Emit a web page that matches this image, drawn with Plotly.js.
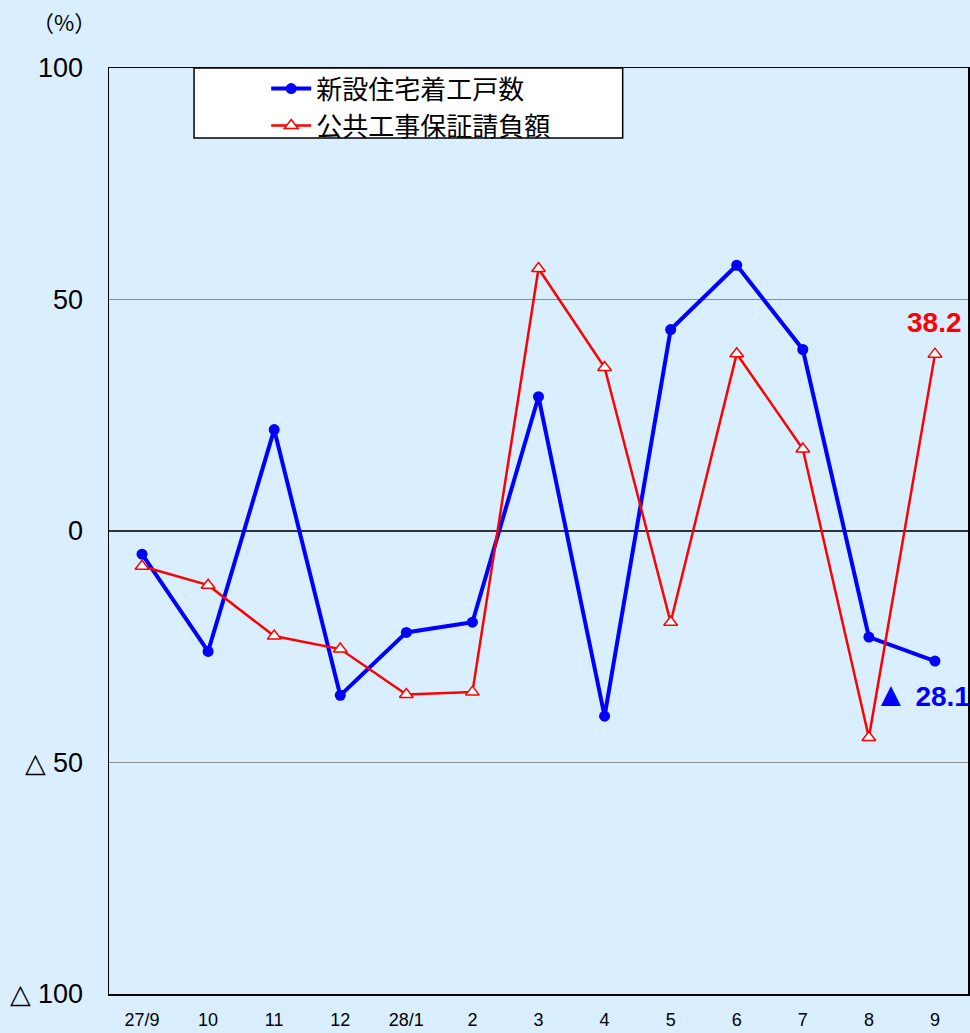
<!DOCTYPE html>
<html>
<head>
<meta charset="utf-8">
<script src="https://cdn.plot.ly/plotly-3.0.1.min.js"></script>
<style>
html,body{margin:0;padding:0;background:#D9EFFF;}
#chart{width:970px;height:1033px;}
</style>
</head>
<body>
<div id="chart"></div>
<script>
var categories = ['27/9','10','11','12','28/1','2','3','4','5','6','7','8','9'];
var housingStarts = [-5.0, -26.0, 21.9, -35.5, -21.9, -19.7, 29.0, -40.0, 43.5, 57.4, 39.2, -22.9, -28.1];
var publicWorks = [-7.6, -11.7, -22.7, -25.5, -35.3, -34.8, 56.7, 35.3, -19.7, 38.3, 17.7, -44.6, 38.2];
var seriesNames = ['新設住宅着工戸数', '公共工事保証請負額'];
var yTickVals = [100, 50, 0, -50, -100];
var yTickText = ['100', '50', '0', '△ 50', '△ 100'];

var sans = '"Liberation Sans", Arial, sans-serif';
var cjk = '"Noto Sans CJK JP", sans-serif';

var xIdx = categories.map(function(c, i){ return i; });

var traces = [
  {
    x: xIdx, y: housingStarts, name: seriesNames[0], type: 'scatter', mode: 'lines+markers',
    line: {color: '#0000FF', width: 4},
    marker: {symbol: 'circle', size: 11, color: '#0000FF'}
  },
  {
    x: xIdx, y: publicWorks, name: seriesNames[1], type: 'scatter', mode: 'lines+markers',
    line: {color: '#FF0000', width: 2.5},
    marker: {symbol: 'triangle-up', size: 12, color: '#FFFFFF', line: {color: '#FF0000', width: 1.5}}
  }
];

var last = categories.length - 1;

var layout = {
  width: 970, height: 1033,
  margin: {l: 109, r: 2, t: 68, b: 39},
  paper_bgcolor: '#D9EFFF',
  plot_bgcolor: '#D9EFFF',
  showlegend: true,
  legend: {
    x: 0.183, y: 1.003, xanchor: 'left', yanchor: 'top',
    bgcolor: 'rgba(0,0,0,0)', borderwidth: 0,
    font: {family: cjk, size: 26, color: '#000'},
    tracegroupgap: 0, itemwidth: 40
  },
  xaxis: {
    range: [-0.5, categories.length - 0.5],
    tickmode: 'array', tickvals: xIdx, ticktext: categories,
    showgrid: false, zeroline: false,
    showline: true, mirror: true, linecolor: '#000', linewidth: 1.5,
    ticks: '', ticklen: 0, ticklabelstandoff: 9,
    tickfont: {family: sans, size: 18, color: '#000'},
    fixedrange: true
  },
  yaxis: {
    range: [-100, 100],
    tickmode: 'array', tickvals: yTickVals, ticktext: yTickText,
    showgrid: true, gridcolor: '#8C8C8C', gridwidth: 1,
    zeroline: true, zerolinecolor: '#333333', zerolinewidth: 1.5,
    showline: true, mirror: true, linecolor: '#000', linewidth: 1.5,
    ticks: '', ticklen: 0, ticklabelstandoff: 19,
    tickfont: {family: sans, size: 27, color: '#000'},
    fixedrange: true
  },
  shapes: [
    {type: 'rect', xref: 'paper', yref: 'paper', x0: 0.099, x1: 0.598, y0: 0.9245, y1: 1,
     fillcolor: '#FFFFFF', line: {color: '#000', width: 1.5}, layer: 'below'}
  ],
  annotations: [
    {xref: 'paper', yref: 'paper', x: -0.052, y: 1.051, xanchor: 'center', yanchor: 'middle',
     text: '（%）', showarrow: false, font: {family: cjk, size: 22, color: '#000'}},
    {xref: 'x', yref: 'y', x: last, y: publicWorks[last], yshift: 32, xanchor: 'center', yanchor: 'middle',
     text: '<b>' + publicWorks[last].toFixed(1) + '</b>', showarrow: false,
     font: {family: sans, size: 28, color: '#FF0000'}},
    {xref: 'x', yref: 'y', x: last - 0.95, y: housingStarts[last] - 7, xanchor: 'left', yanchor: 'middle',
     text: '<b><span style="font-size:34px">▲</span> ' + Math.abs(housingStarts[last]).toFixed(1) + '</b>', showarrow: false,
     font: {family: sans, size: 28, color: '#0000FF'}}
  ]
};

Plotly.newPlot('chart', traces, layout, {displayModeBar: false, staticPlot: true});
</script>
</body>
</html>
